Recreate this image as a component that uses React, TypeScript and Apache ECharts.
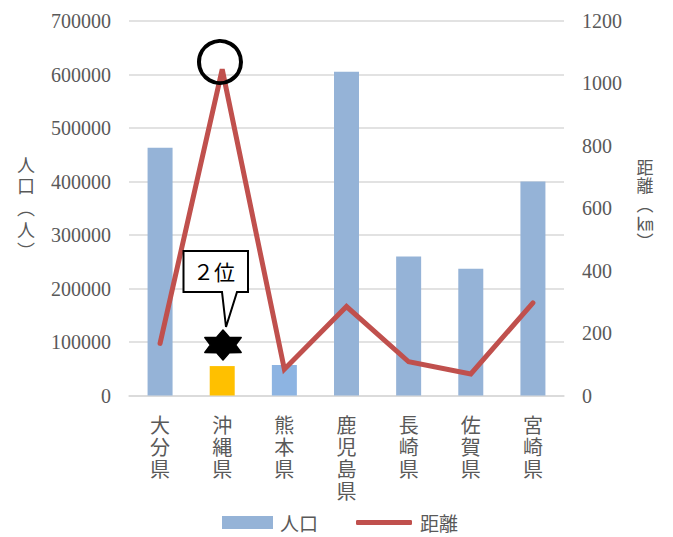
import React, { useEffect, useRef } from "react";
import * as echarts from "echarts";

const categories = ["大分県", "沖縄県", "熊本県", "鹿児島県", "長崎県", "佐賀県", "宮崎県"];
const population = [463000, 55000, 57000, 605000, 260000, 237000, 400000];
const distance = [167, 1045, 84, 285, 108, 69, 297];
const barColors = ["#95B3D7", "#FFC000", "#8DB4E2", "#95B3D7", "#95B3D7", "#95B3D7", "#95B3D7"];
const leftAxis = { min: 0, max: 700000, interval: 100000 };
const rightAxis = { min: 0, max: 1200, interval: 200 };
const seriesNames = ["人口", "距離"];
const leftAxisName = "人\n口\n︵\n人\n︶";
const rightAxisName = "距\n離\n︵\n㎞\n︶";
const calloutText = "２位";

const GRAY = "#595959";
const CJK = "Noto Sans CJK JP, sans-serif";
const SERIF = "Liberation Serif, serif";

function starPoints(cx: number, cy: number, rx: number, ry: number, inner: number) {
  const pts: number[][] = [];
  for (let i = 0; i < 12; i++) {
    const a = ((-90 + 30 * i) * Math.PI) / 180;
    const r = i % 2 === 0 ? 1 : inner;
    pts.push([cx + rx * r * Math.cos(a), cy + ry * r * Math.sin(a)]);
  }
  return pts;
}

export default function App() {
  const ref = useRef<HTMLDivElement>(null);
  useEffect(() => {
    if (!ref.current) return;
    const chart = echarts.init(ref.current, undefined, { renderer: "svg" });
    chart.setOption({
      animation: false,
      backgroundColor: "#ffffff",
      grid: { left: 129, right: 109, top: 21, bottom: 141.5, containLabel: false },
      legend: [
        {
          data: [{ name: seriesNames[0], icon: "rect" }],
          left: 222,
          top: 513,
          padding: 0,
          itemWidth: 51,
          itemHeight: 13,
          textStyle: { color: GRAY, fontSize: 19, fontFamily: CJK, padding: [0, 0, 0, 2] },
        },
        {
          data: [{ name: seriesNames[1], icon: "roundRect" }],
          left: 356,
          top: 513,
          padding: 0,
          itemWidth: 56,
          itemHeight: 5,
          textStyle: { color: GRAY, fontSize: 19, fontFamily: CJK, padding: [0, 0, 0, 3] },
        },
      ],
      xAxis: {
        type: "category",
        data: categories,
        axisLine: { lineStyle: { color: "#D9D9D9", width: 1.5 } },
        axisTick: { show: false },
        axisLabel: {
          color: GRAY,
          fontSize: 20,
          lineHeight: 22,
          fontFamily: CJK,
          margin: 18,
          interval: 0,
          formatter: (v: string) => v.split("").join("\n"),
        },
      },
      yAxis: [
        {
          type: "value",
          min: leftAxis.min,
          max: leftAxis.max,
          interval: leftAxis.interval,
          axisLine: { show: false },
          axisTick: { show: false },
          splitLine: { lineStyle: { color: "#D9D9D9", width: 1.5 } },
          axisLabel: {
            color: GRAY,
            fontSize: 20,
            fontFamily: SERIF,
            margin: 18,
            formatter: (v: number) => String(v),
          },
        },
        {
          type: "value",
          min: rightAxis.min,
          max: rightAxis.max,
          interval: rightAxis.interval,
          axisLine: { show: false },
          axisTick: { show: false },
          splitLine: { show: false },
          axisLabel: {
            color: GRAY,
            fontSize: 20,
            fontFamily: SERIF,
            margin: 18,
            formatter: (v: number) => String(v),
          },
        },
      ],
      series: [
        {
          name: seriesNames[0],
          type: "bar",
          yAxisIndex: 0,
          barWidth: 25,
          itemStyle: { color: barColors[0] },
          data: population.map((v, i) => ({ value: v, itemStyle: { color: barColors[i] } })),
        },
        {
          name: seriesNames[1],
          type: "line",
          yAxisIndex: 1,
          symbol: "none",
          itemStyle: { color: "#C0504D" },
          lineStyle: { color: "#C0504D", width: 5, cap: "round", join: "miter" },
          data: distance,
          z: 3,
        },
      ],
      graphic: [
        {
          type: "text",
          x: 26,
          y: 153,
          style: {
            text: leftAxisName,
            fill: GRAY,
            fontSize: 18,
            lineHeight: 21.6,
            fontFamily: CJK,
            align: "center",
            verticalAlign: "top",
          },
        },
        {
          type: "text",
          x: 645,
          y: 157,
          style: {
            text: rightAxisName,
            fill: GRAY,
            fontSize: 17,
            lineHeight: 18.6,
            fontFamily: CJK,
            align: "center",
            verticalAlign: "top",
          },
        },
        {
          type: "circle",
          shape: { cx: 220, cy: 62, r: 21 },
          style: { fill: "none", stroke: "#000000", lineWidth: 4 },
          z: 100,
        },
        {
          type: "polygon",
          shape: {
            points: [
              [183.5, 251],
              [248, 251],
              [248, 292],
              [237, 292],
              [226, 327],
              [222, 292],
              [183.5, 292],
            ],
          },
          style: { fill: "#ffffff", stroke: "#000000", lineWidth: 2 },
          z: 100,
        },
        {
          type: "text",
          x: 214,
          y: 273,
          style: {
            text: calloutText,
            fill: "#000000",
            fontSize: 21,
            fontFamily: "Liberation Serif, Noto Sans CJK JP, serif",
            align: "center",
            verticalAlign: "middle",
          },
          z: 101,
        },
        {
          type: "polygon",
          shape: { points: starPoints(223, 345, 21, 15, 0.6) },
          style: { fill: "#000000", stroke: "#000000", lineWidth: 1.5, lineJoin: "round" },
          z: 100,
        },
      ],
    });
    return () => chart.dispose();
  }, []);
  return (
    <div
      ref={ref}
      style={{ position: "fixed", left: 0, top: 0, width: 673, height: 537 }}
    />
  );
}
